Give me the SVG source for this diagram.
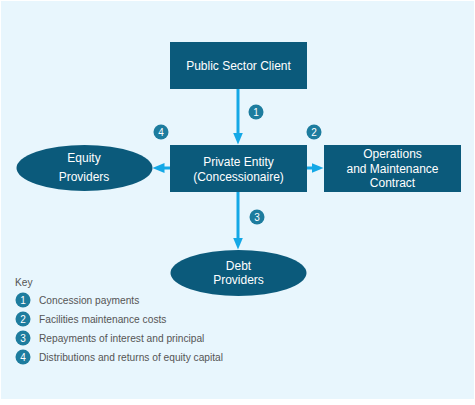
<svg xmlns="http://www.w3.org/2000/svg" width="475" height="405" viewBox="0 0 475 405">
<style>
.node{fill:#0b5a7b}
.nt{fill:#ffffff;font-family:"Liberation Sans",Arial,sans-serif;font-size:12px;text-anchor:middle}
.conn{stroke:#14a8e6;stroke-width:3;fill:none}
.badge circle{fill:#1d7c9e}
.badge text{fill:#ffffff;font-family:"Liberation Sans",Arial,sans-serif;font-size:10px;text-anchor:middle}
.key{fill:#555555;font-family:"Liberation Sans",Arial,sans-serif;font-size:10.2px}
</style>
<defs>
<marker id="ah" viewBox="0 0 12 10" markerWidth="12" markerHeight="10" refX="0.5" refY="5" orient="auto" markerUnits="userSpaceOnUse">
<path d="M0,0 L12,5 L0,10 z" fill="#14a8e6"/>
</marker>
</defs>
<rect x="0" y="0" width="475" height="405" fill="#ffffff"/>
<rect x="1" y="1" width="473" height="398" fill="#e8f6fd"/>

<g id="connectors">
<line class="conn" x1="238" y1="89" x2="238" y2="133" marker-end="url(#ah)"/>
<line class="conn" x1="170" y1="168" x2="164" y2="168" marker-end="url(#ah)"/>
<line class="conn" x1="307" y1="168" x2="312" y2="168" marker-end="url(#ah)"/>
<line class="conn" x1="238" y1="192" x2="238" y2="238" marker-end="url(#ah)"/>
</g>

<g id="public-sector-client">
<rect class="node" x="170" y="42" width="137" height="47"/>
<text class="nt" x="238.5" y="70">Public Sector Client</text>
</g>

<g id="private-entity">
<rect class="node" x="170" y="145" width="137" height="47"/>
<text class="nt" x="238.5" y="166">Private Entity</text>
<text class="nt" x="238.5" y="181">(Concessionaire)</text>
</g>

<g id="equity-providers">
<ellipse class="node" cx="84.5" cy="168" rx="68" ry="23"/>
<text class="nt" x="84" y="162">Equity</text>
<text class="nt" x="84" y="181">Providers</text>
</g>

<g id="om-contract">
<rect class="node" x="324" y="145" width="137" height="47"/>
<text class="nt" x="392.5" y="158">Operations</text>
<text class="nt" x="392.5" y="172.5">and Maintenance</text>
<text class="nt" x="392.5" y="187">Contract</text>
</g>

<g id="debt-providers">
<ellipse class="node" cx="238.5" cy="273" rx="68" ry="23"/>
<text class="nt" x="238.5" y="270">Debt</text>
<text class="nt" x="238.5" y="284">Providers</text>
</g>

<g id="badges">
<g class="badge"><circle cx="256" cy="112" r="7.5"/><text x="256" y="115.5">1</text></g>
<g class="badge"><circle cx="314" cy="132" r="7.5"/><text x="314" y="135.5">2</text></g>
<g class="badge"><circle cx="257" cy="217" r="7.5"/><text x="257" y="220.5">3</text></g>
<g class="badge"><circle cx="161" cy="132" r="7.5"/><text x="161" y="135.5">4</text></g>
</g>

<g id="key">
<text class="key" x="15" y="286">Key</text>
<g class="badge"><circle cx="23" cy="300" r="7.5"/><text x="23" y="303.5">1</text></g>
<text class="key" x="39" y="303.5">Concession payments</text>
<g class="badge"><circle cx="23" cy="319" r="7.5"/><text x="23" y="322.5">2</text></g>
<text class="key" x="39" y="322.5">Facilities maintenance costs</text>
<g class="badge"><circle cx="23" cy="338" r="7.5"/><text x="23" y="341.5">3</text></g>
<text class="key" x="39" y="341.5">Repayments of interest and principal</text>
<g class="badge"><circle cx="23" cy="357" r="7.5"/><text x="23" y="360.5">4</text></g>
<text class="key" x="39" y="360.5">Distributions and returns of equity capital</text>
</g>
</svg>
